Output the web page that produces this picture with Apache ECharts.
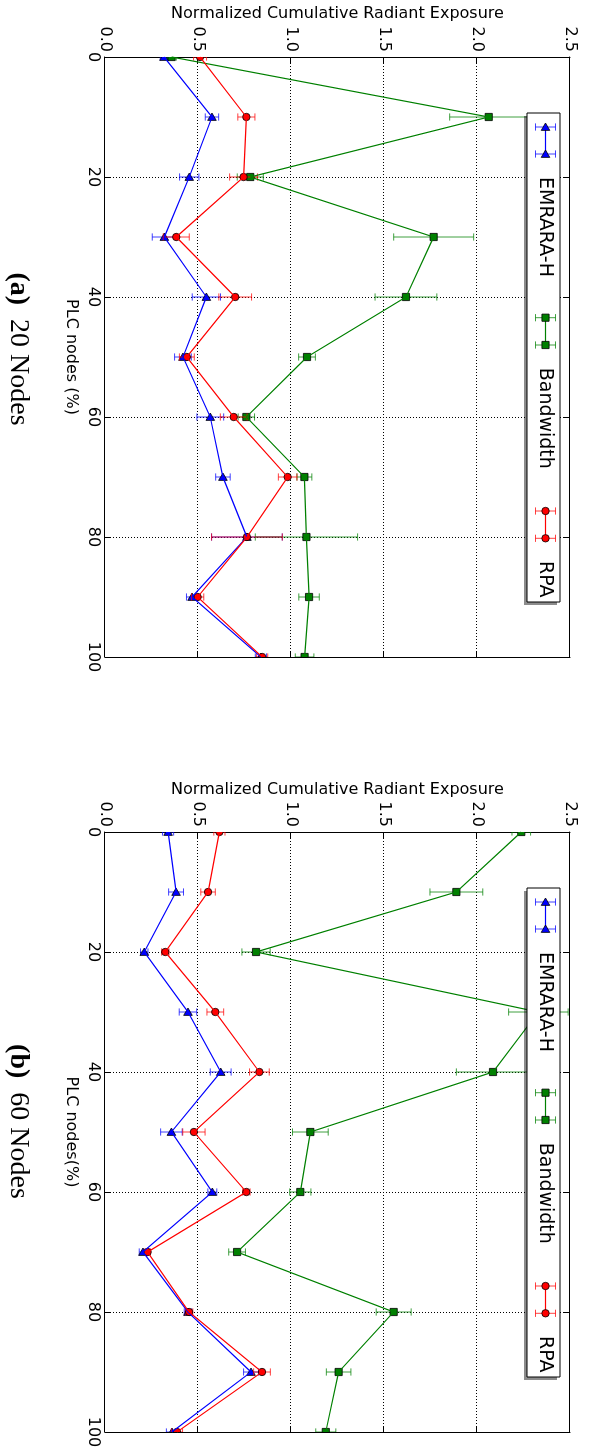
<!DOCTYPE html>
<html><head><meta charset="utf-8">
<script src="https://cdn.jsdelivr.net/npm/echarts@6/dist/echarts.min.js"></script>
<style>
html,body{margin:0;padding:0;width:592px;height:1455px;overflow:hidden;background:#fff;}
#chart{position:absolute;left:0;top:0;width:1455px;height:592px;transform-origin:0 0;transform:translateX(592px) rotate(90deg);background:#fff;}
</style></head><body><div id="chart"></div>
<script>
// ---- data ----
const nodes = [0, 10, 20, 30, 40, 50, 60, 70, 80, 90, 100];
const xTickLabels = ['0', '20', '40', '60', '80', '100'];
const yTickLabels = ['0.0', '0.5', '1.0', '1.5', '2.0', '2.5'];
const seriesNames = ['EMRARA-H', 'Bandwidth', 'RPA'];
const captions = ['20 Nodes', '60 Nodes'];
const captionTags = ['(a)', '(b)'];
const xNames = ['PLC nodes (%)', 'PLC nodes(%)'];
const yName = 'Normalized Cumulative Radiant Exposure';

// (a) 20 nodes
const emrara20 = [0.317, 0.575, 0.453, 0.319, 0.545, 0.419, 0.566, 0.634, 0.763, 0.468, 0.838];
const emrara20Err = [0.02, 0.036, 0.052, 0.065, 0.076, 0.045, 0.072, 0.039, 0.19, 0.03, 0.03];
const bandwidth20 = [0.358, 2.063, 0.781, 1.767, 1.618, 1.086, 0.760, 1.072, 1.083, 1.097, 1.073];
const bandwidth20Err = [0.025, 0.21, 0.07, 0.215, 0.166, 0.045, 0.044, 0.04, 0.275, 0.055, 0.05];
const rpa20 = [0.511, 0.760, 0.745, 0.383, 0.700, 0.440, 0.692, 0.982, 0.763, 0.498, 0.845];
const rpa20Err = [0.035, 0.046, 0.075, 0.07, 0.088, 0.04, 0.072, 0.05, 0.19, 0.033, 0.03];

// (b) 60 nodes
const emrara60 = [0.339, 0.382, 0.211, 0.446, 0.622, 0.357, 0.577, 0.204, 0.446, 0.785, 0.360];
const emrara60Err = [0.03, 0.04, 0.02, 0.047, 0.056, 0.058, 0.024, 0.02, 0.02, 0.04, 0.03];
const bandwidth60 = [2.238, 1.889, 0.812, 2.33, 2.086, 1.104, 1.05, 0.71, 1.552, 1.256, 1.187];
const bandwidth60Err = [0.05, 0.142, 0.076, 0.16, 0.197, 0.096, 0.057, 0.045, 0.094, 0.066, 0.054];
const rpa60 = [0.615, 0.554, 0.324, 0.593, 0.83, 0.478, 0.76, 0.229, 0.452, 0.844, 0.387];
const rpa60Err = [0.03, 0.039, 0.02, 0.045, 0.053, 0.06, 0.02, 0.015, 0.02, 0.045, 0.03];

// ---- styles ----
const COLORS = ['#0000ff', '#008000', '#ff0000'];
const MARKERS = ['triangle', 'square', 'circle'];
const FONT = 'DejaVu Sans';
const GRID_LEFT = [57, 832];
const GRID_TOP = 22, GRID_W = 600, GRID_H = 465;

function marker(kind, cx, cy, color) {
  const st = { fill: color, stroke: '#000', lineWidth: 0.8 };
  if (kind === 'circle') return { type: 'circle', shape: { cx: cx, cy: cy, r: 3.7 }, style: st };
  if (kind === 'square') return { type: 'rect', shape: { x: cx - 3.6, y: cy - 3.6, width: 7.2, height: 7.2 }, style: st };
  return { type: 'polygon', shape: { points: [[cx - 4, cy], [cx + 3.4, cy - 4.3], [cx + 3.4, cy + 4.3]] }, style: st };
}

function errBarChildren(px, yLo, yHi, color, cw) {
  const bs = { stroke: color, lineWidth: 1, opacity: 0.75 };
  return [
    { type: 'line', shape: { x1: px, y1: yLo, x2: px, y2: yHi }, style: bs },
    { type: 'line', shape: { x1: px - cw, y1: yLo, x2: px + cw, y2: yLo }, style: bs },
    { type: 'line', shape: { x1: px - cw, y1: yHi, x2: px + cw, y2: yHi }, style: bs }
  ];
}

const panels = [
  [[emrara20, emrara20Err], [bandwidth20, bandwidth20Err], [rpa20, rpa20Err]],
  [[emrara60, emrara60Err], [bandwidth60, bandwidth60Err], [rpa60, rpa60Err]]
];

const grids = [], xAxes = [], yAxes = [], series = [], graphics = [];
const axisTextStyle = { fontSize: 16, color: '#000', fontFamily: FONT };
const yNameGaps = [35, 30];

panels.forEach((panel, gi) => {
  grids.push({ left: GRID_LEFT[gi], top: GRID_TOP, width: GRID_W, height: GRID_H, containLabel: false });
  const lineCommon = { show: true, onZero: false, lineStyle: { color: '#000', width: 1 } };
  const tickCommon = { show: true, inside: true, length: 6, lineStyle: { color: '#000', width: 1 } };
  xAxes.push({
    gridIndex: gi, type: 'value', min: 0, max: 100, interval: 20, position: 'bottom',
    axisLine: lineCommon, axisTick: tickCommon,
    axisLabel: Object.assign({ margin: 4, formatter: v => xTickLabels[Math.round(v / 20)] }, axisTextStyle),
    splitLine: { show: true, lineStyle: { color: '#000', type: [1, 2], width: 1 } },
    name: xNames[gi], nameLocation: 'middle', nameGap: 26, nameTextStyle: axisTextStyle
  });
  xAxes.push({
    gridIndex: gi, type: 'value', min: 0, max: 100, interval: 20, position: 'top',
    axisLine: lineCommon, axisTick: tickCommon, axisLabel: { show: false }, splitLine: { show: false }
  });
  yAxes.push({
    gridIndex: gi, type: 'value', min: 0, max: 2.5, interval: 0.5, position: 'left',
    axisLine: lineCommon, axisTick: tickCommon,
    axisLabel: Object.assign({ margin: 5, formatter: v => yTickLabels[Math.round(v / 0.5)] }, axisTextStyle),
    splitLine: { show: true, lineStyle: { color: '#000', type: [1, 2], width: 1 } },
    name: yName, nameLocation: 'middle', nameRotate: 90, nameGap: yNameGaps[gi], nameTextStyle: axisTextStyle
  });
  yAxes.push({
    gridIndex: gi, type: 'value', min: 0, max: 2.5, interval: 0.5, position: 'right',
    axisLine: lineCommon, axisTick: tickCommon, axisLabel: { show: false }, splitLine: { show: false }
  });

  panel.forEach((pair, si) => {
    const vals = pair[0], errs = pair[1];
    const color = COLORS[si], mk = MARKERS[si];
    series.push({
      type: 'line', name: seriesNames[si], xAxisIndex: gi * 2, yAxisIndex: gi * 2,
      data: nodes.map((n, i) => [n, vals[i]]), symbol: 'none', clip: true, silent: true,
      lineStyle: { color: color, width: 1.2 }
    });
    series.push({
      type: 'custom', name: seriesNames[si], xAxisIndex: gi * 2, yAxisIndex: gi * 2, clip: true, silent: true,
      data: nodes.map((n, i) => [n, vals[i], errs[i]]),
      renderItem: (params, api) => {
        const x = api.value(0), y = api.value(1), e = api.value(2);
        const p = api.coord([x, y]);
        const lo = api.coord([x, y - e]);
        const hi = api.coord([x, y + e]);
        const ch = errBarChildren(p[0], lo[1], hi[1], color, 3.6);
        ch.push(marker(mk, p[0], p[1], color));
        return { type: 'group', children: ch };
      }
    });
  });

  // legend box (drawn as graphic)
  const bx = GRID_LEFT[gi] + 56, by = 32, bw = 489, bh = 33;
  graphics.push({ type: 'rect', z: 100, shape: { x: bx + 3, y: by + 3, width: bw, height: bh }, style: { fill: 'rgba(0,0,0,0.45)' } });
  graphics.push({ type: 'rect', z: 101, shape: { x: bx, y: by, width: bw, height: bh }, style: { fill: '#fff', stroke: '#000', lineWidth: 1 } });
  const entries = [[14, 41, 64], [204.7, 232, 254.7], [398, 425.3, 448]];
  entries.forEach((en, si) => {
    const cy = by + 14.5;
    const color = COLORS[si];
    graphics.push({ type: 'line', z: 102, shape: { x1: bx + en[0], y1: cy, x2: bx + en[1], y2: cy }, style: { stroke: color, lineWidth: 1.2 } });
    [en[0], en[1]].forEach(mx => {
      errBarChildren(bx + mx, cy - 10, cy + 10, color, 3.6).forEach(c => { c.z = 102; graphics.push(c); });
      const m = marker(MARKERS[si], bx + mx, cy, color); m.z = 103; graphics.push(m);
    });
    graphics.push({ type: 'text', z: 103, x: bx + en[2], y: cy + 0.5,
      style: { text: seriesNames[si], fontSize: 19, fontFamily: FONT, fill: '#000', align: 'left', verticalAlign: 'middle' } });
  });

  // caption
  const capX = [349, 1121.5][gi];
  graphics.push({ type: 'text', z: 100, x: capX, y: 574,
    style: { text: '{b|' + captionTags[gi] + '}  ' + captions[gi], fontSize: 28, fontFamily: 'Liberation Serif', fill: '#000',
      align: 'center', verticalAlign: 'middle',
      rich: { b: { fontSize: 28, fontFamily: 'Liberation Serif', fontWeight: 'bold', fill: '#000' } } } });
});

const chart = echarts.init(document.getElementById('chart'), null, { renderer: 'canvas' });
chart.setOption({
  animation: false,
  backgroundColor: '#fff',
  grid: grids, xAxis: xAxes, yAxis: yAxes, series: series, graphic: graphics
});
</script></body></html>
